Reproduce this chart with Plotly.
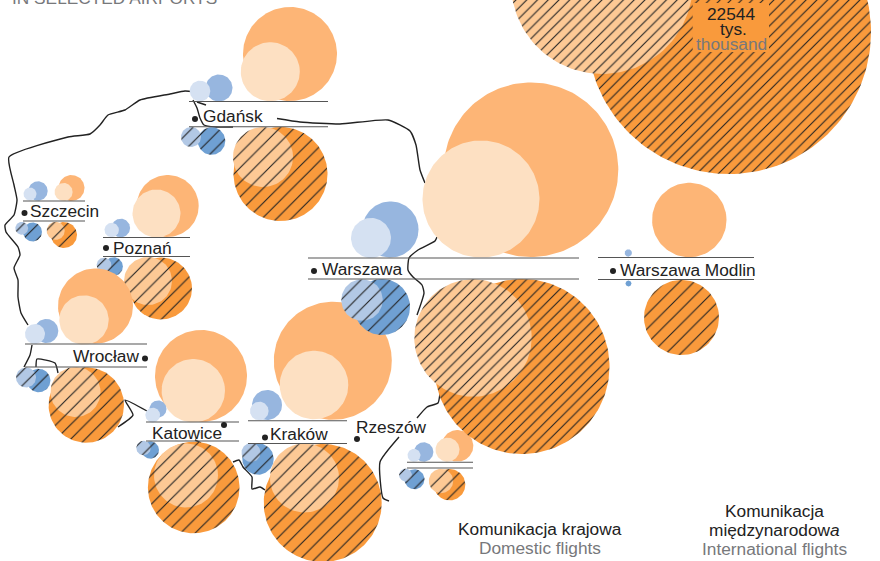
import math
import plotly.graph_objects as go

# ---------- data (thousands, read from circle areas) ----------
airports = ["Gdańsk", "Szczecin", "Poznań", "Wrocław", "Katowice", "Kraków", "Rzeszów", "Warszawa", "Warszawa Modlin"]
plain_orange_dark = [2470, 189, 1074, 1572, 2366, 3892, 279, 8521, 1547]
plain_orange_light = [973, 91, 644, 682, 1123, 1315, 161, 3826, 0]
plain_blue_dark = [204, 105, 97, 161, 81, 252, 105, 877, 15]
plain_blue_light = [119, 47, 58, 112, 61, 97, 47, 447, 0]
hatch_orange_dark = [2470, 189, 1074, 1589, 2345, 3892, 276, 8560, 1572]
hatch_orange_light = [1006, 91, 644, 699, 1145, 1331, 166, 3852, 0]
hatch_blue_dark = [213, 101, 97, 153, 85, 276, 112, 877, 10]
hatch_blue_light = [112, 46, 61, 112, 58, 101, 46, 479, 0]
legend_values = [22544, 9259]

# ---------- layout of the map (screen-like coordinates) ----------
SCALE = 142 / math.sqrt(22544)
pos_po_d = [(290, 54), (71.5, 188), (167.7, 206), (95.5, 306), (201, 376), (332.8, 360.8), (457.5, 445.8), (531, 169.7), (689.3, 220)]
pos_po_l = [(270.3, 71.7), (63.6, 192), (156.5, 213.5), (84, 320), (193.3, 390.7), (314, 385), (447.5, 449.7), (481, 199), None]
pos_pb_d = [(219, 88), (38, 191), (120.8, 228), (46.3, 331), (158, 409), (267, 405), (423.7, 452), (390.5, 229.5), (628.3, 253)]
pos_pb_l = [(200, 91), (30, 194), (111.7, 230), (35, 334), (152.7, 415), (259.3, 411), (414, 455.3), (371, 238), None]
pos_ho_d = [(280.5, 174), (64, 235), (161, 288.5), (86.3, 405), (193.7, 487.5), (322.7, 503), (449.6, 484.7), (522, 366.5), (681.5, 317.5)]
pos_ho_l = [(263, 157), (55.7, 230.8), (148, 281), (75.5, 392), (186, 475.5), (304.5, 478), (441, 481), (473, 338), None]
pos_hb_d = [(211.5, 141), (32.5, 232), (113.6, 266.5), (38.7, 380.5), (150.3, 450), (258, 459), (414.5, 479.3), (382, 307), (628.5, 283.5)]
pos_hb_l = [(191, 137), (21.7, 228.3), (104, 265), (26, 377.5), (143.5, 448), (251, 452.5), (405.5, 475), (362, 300), None]
rules = [(189, 328, 101.5, 126.7), (23, 85, 201, 221), (103, 190, 237.5, 256.5), (25, 147, 344, 367),
         (146, 239, 422, 441), (248, 347, 420.7, 443.5), (407, 473, 462.3, 468), (308, 579, 258, 279), (598, 754, 257.5, 279.5)]
label_pos = [(202, 116), (29, 211), (112, 248), (140, 356), (151, 433), (269, 434), (355, 427), (321, 269), (619, 270)]
dot_pos = [(195, 119), (24.5, 213), (106, 248), (145, 358.5), (224, 425), (265, 437.5), (357, 439), (314, 271), (613, 271)]

border_parts = [
    [(195, 92), (185, 91), (170, 94), (140, 100), (125, 110), (108, 115), (100, 125), (90, 134), (68, 137), (9, 157),
     (14, 185), (17, 200), (14, 215), (5, 225), (6, 232), (18, 247), (20, 255), (14, 268), (18, 280), (18, 297), (21, 313), (28, 325)],
    [(193, 100), (197, 108), (200, 118), (204, 125), (215, 127), (233, 127)],
    [(197, 102), (206, 105)],
    [(277, 118.5), (300, 122), (340, 124), (388, 120), (410, 131), (416, 145), (420, 170), (425, 183)],
    [(32, 345), (30, 355), (24, 367)],
    [(36, 367), (37, 359), (55, 363), (58, 373)],
    [(147, 411), (125, 400), (133, 415), (118, 427)],
    [(195, 440), (201, 443)],
    [(233, 462), (239, 460), (243, 467), (252, 477), (252, 489), (260, 487), (265, 490)],
    [(389, 501), (383, 498), (380, 462), (399, 437)],
    [(417, 418), (427, 407), (438, 403), (440, 393)],
    [(437, 237), (435, 241), (418, 250), (409, 258), (408, 270), (413, 277), (422, 285), (424, 293), (417, 315)],
]

C = dict(po_d="#FDB576", po_l="#FDE0C2", pb_d="#97B6DF", pb_l="#D5E1F2",
         ho_d="#F99A3C", ho_l="#FDC995", hb_d="#6FA0D3", hb_l="#B2C8E5")
INK = "#222222"
GREY = "#77787B"
FONT = "Liberation Sans"
TILE_SMALL = 10.3
TILE_BIG = 7.6

fig = go.Figure()


def radius(v):
    return SCALE * math.sqrt(v)


def circle(center, value, color, hatch=None):
    r = radius(value)
    n = 90 if r < 40 else 180
    xs = [center[0] + r * math.cos(2 * math.pi * i / n) for i in range(n + 1)]
    ys = [center[1] + r * math.sin(2 * math.pi * i / n) for i in range(n + 1)]
    kw = dict(x=xs, y=ys, mode="lines", fill="toself", fillcolor=color, line=dict(width=0),
              hoverinfo="skip", showlegend=False)
    if hatch and r > 4:
        kw["fillpattern"] = dict(shape="/", size=hatch, solidity=1.1 / hatch, fgcolor=INK, fgopacity=1,
                                 bgcolor=color, fillmode="replace")
    fig.add_trace(go.Scatter(**kw))


for part in border_parts:
    fig.add_trace(go.Scatter(x=[p[0] for p in part], y=[p[1] for p in part], mode="lines",
                             line=dict(color=INK, width=1.4, shape="spline", smoothing=0.5),
                             hoverinfo="skip", showlegend=False))

# the two oversized circles that run off the top
circle((729, 32), legend_values[0], C["ho_d"], hatch=TILE_BIG)
circle((602, -17), legend_values[1], C["ho_l"], hatch=TILE_BIG)

for i, name in enumerate(airports):
    big = TILE_BIG if name == "Warszawa" else TILE_SMALL
    if pos_po_d[i]:
        circle(pos_po_d[i], plain_orange_dark[i], C["po_d"])
    if pos_po_l[i]:
        circle(pos_po_l[i], plain_orange_light[i], C["po_l"])
    circle(pos_pb_d[i], plain_blue_dark[i], C["pb_d"])
    if pos_pb_l[i]:
        circle(pos_pb_l[i], plain_blue_light[i], C["pb_l"])
    circle(pos_ho_d[i], hatch_orange_dark[i], C["ho_d"], hatch=big)
    if pos_ho_l[i]:
        circle(pos_ho_l[i], hatch_orange_light[i], C["ho_l"], hatch=big)
    circle(pos_hb_d[i], hatch_blue_dark[i], C["hb_d"], hatch=TILE_SMALL)
    if pos_hb_l[i]:
        circle(pos_hb_l[i], hatch_blue_light[i], C["hb_l"], hatch=TILE_SMALL)

for x0, x1, y0, y1 in rules:
    for y in (y0, y1):
        fig.add_trace(go.Scatter(x=[x0, x1], y=[y, y], mode="lines", line=dict(color="#555555", width=1.1),
                                 hoverinfo="skip", showlegend=False))

fig.add_trace(go.Scatter(x=[p[0] for p in dot_pos], y=[p[1] for p in dot_pos], mode="markers",
                         marker=dict(color=INK, size=6), hoverinfo="skip", showlegend=False))


def txt(x, y, s, color=INK, size=17.3, xanchor="center", yanchor="middle"):
    fig.add_annotation(x=x, y=y, text=s, showarrow=False, xanchor=xanchor, yanchor=yanchor,
                       font=dict(family=FONT, size=size, color=color), borderpad=0)


for name, (x, y) in zip(airports, label_pos):
    txt(x, y, name, xanchor="right" if name == "Wrocław" else "left")

fig.add_shape(type="rect", x0=692.7, x1=769, y0=3, y1=52, fillcolor=C["ho_d"], line=dict(width=0), layer="above")
txt(731, 14, str(legend_values[0]))
txt(733, 29, "tys.")
txt(731, 44, "thousand", GREY)
txt(590, 5, "thousand", GREY, yanchor="bottom")
txt(10.5, 9, "IN SELECTED AIRPORTS", GREY, xanchor="left", yanchor="bottom")

txt(540, 529, "Komunikacja krajowa")
txt(540, 548, "Domestic flights", GREY)
txt(774, 511, "Komunikacja")
txt(774, 530, "międzynarodow<i>a</i>")
txt(774, 549, "International flights", GREY)

fig.update_layout(width=880, height=561, margin=dict(l=0, r=0, t=0, b=0), autosize=False,
                  paper_bgcolor="white", plot_bgcolor="white", showlegend=False,
                  xaxis=dict(range=[0, 880], visible=False, fixedrange=True),
                  yaxis=dict(range=[561, 0], visible=False, fixedrange=True))
fig.write_html("out.html", config=dict(displayModeBar=False),
               post_script="document.body.style.margin='0';document.body.style.overflow='hidden';")
